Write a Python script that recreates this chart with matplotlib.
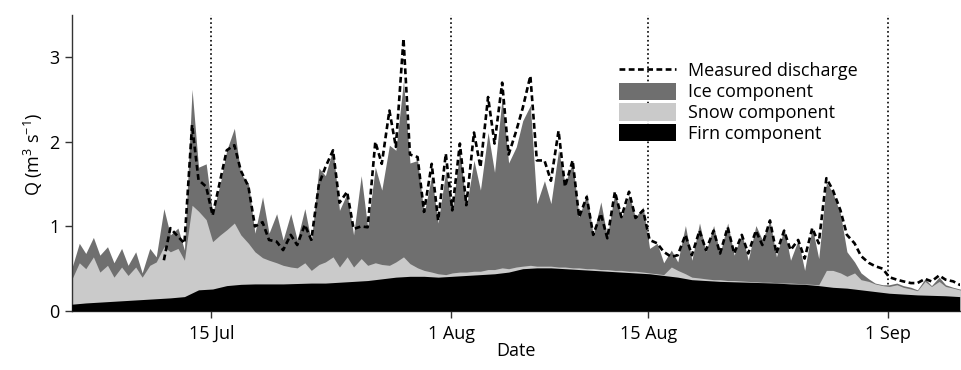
import numpy as np
import matplotlib
matplotlib.use('Agg')
import matplotlib.pyplot as plt
import matplotlib.dates as mdates
from matplotlib.patches import Patch

plt.rcParams['font.family'] = ['Open Sans', 'DejaVu Sans']
plt.rcParams['mathtext.fontset'] = 'custom'
plt.rcParams['mathtext.rm'] = 'Open Sans'
plt.rcParams['mathtext.default'] = 'regular'

# values, two per day (early morning, afternoon), 5 Jul - 6 Sep
# cumulative top of the ice component (= firn + snow + ice), m3/s
ice_top = [0.50, 0.80, 0.68, 0.87, 0.66, 0.76, 0.57, 0.74, 0.54, 0.70,
           0.45, 0.74, 0.64, 1.21, 0.90, 0.98, 0.72, 2.62, 1.70, 1.74,
           1.15, 1.51, 1.90, 2.16, 1.62, 1.51, 0.92, 1.35, 0.92, 1.15,
           0.84, 1.15, 0.84, 1.21, 0.82, 1.69, 1.60, 1.92, 1.19, 1.39,
           0.90, 1.60, 0.99, 1.70, 1.43, 1.96, 1.90, 2.72, 1.75, 1.78,
           1.15, 1.60, 1.04, 1.66, 1.19, 1.90, 1.23, 1.78, 1.43, 2.11,
           1.64, 2.53, 1.75, 1.94, 2.25, 2.43, 1.27, 1.54, 1.27, 1.90,
           1.51, 1.76, 1.11, 1.39, 0.90, 1.29, 0.88, 1.41, 1.10, 1.37,
           1.11, 1.23, 0.74, 0.80, 0.57, 0.72, 0.58, 1.01, 0.60, 1.04,
           0.70, 1.01, 0.68, 1.04, 0.66, 0.92, 0.60, 1.01, 0.84, 1.07,
           0.64, 0.98, 0.60, 0.84, 0.48, 0.99, 0.62, 1.52, 1.40, 1.15,
           0.70, 0.58, 0.45, 0.38, 0.33, 0.31, 0.31, 0.33, 0.30, 0.28,
           0.25, 0.38, 0.30, 0.40, 0.31, 0.28, 0.26, 0.25]

# cumulative top of the snow component (= firn + snow)
snow_top = [0.37, 0.57, 0.50, 0.64, 0.46, 0.54, 0.40, 0.52, 0.42, 0.52,
            0.40, 0.54, 0.58, 0.76, 0.70, 0.74, 0.60, 1.25, 1.18, 1.08,
            0.82, 0.90, 0.96, 1.04, 0.90, 0.80, 0.70, 0.63, 0.60, 0.57,
            0.54, 0.52, 0.51, 0.57, 0.48, 0.55, 0.58, 0.64, 0.52, 0.64,
            0.52, 0.62, 0.54, 0.57, 0.55, 0.54, 0.58, 0.64, 0.56, 0.51,
            0.48, 0.46, 0.44, 0.43, 0.45, 0.46, 0.46, 0.47, 0.47, 0.49,
            0.49, 0.51, 0.50, 0.52, 0.53, 0.54, 0.53, 0.53, 0.53, 0.52,
            0.52, 0.51, 0.51, 0.50, 0.50, 0.49, 0.49, 0.48, 0.48, 0.47,
            0.47, 0.46, 0.45, 0.44, 0.43, 0.52, 0.48, 0.44, 0.40, 0.39,
            0.38, 0.37, 0.37, 0.36, 0.36, 0.355, 0.35, 0.345, 0.34, 0.34,
            0.335, 0.33, 0.33, 0.325, 0.32, 0.315, 0.31, 0.48, 0.48, 0.45,
            0.41, 0.45, 0.37, 0.35, 0.32, 0.30, 0.29, 0.31, 0.28, 0.26,
            0.24, 0.35, 0.29, 0.35, 0.29, 0.27, 0.25, 0.24]

# firn component, one value per day
firn = [0.08, 0.095, 0.105, 0.115, 0.125, 0.135, 0.145, 0.155, 0.17, 0.25,
        0.26, 0.30, 0.315, 0.32, 0.32, 0.32, 0.325, 0.33, 0.33, 0.34,
        0.35, 0.36, 0.38, 0.40, 0.41, 0.41, 0.40, 0.41, 0.42, 0.43,
        0.44, 0.46, 0.50, 0.51, 0.51, 0.50, 0.49, 0.48, 0.47, 0.46,
        0.45, 0.44, 0.42, 0.40, 0.37, 0.36, 0.35, 0.345, 0.34, 0.335,
        0.33, 0.32, 0.315, 0.30, 0.28, 0.27, 0.25, 0.23, 0.21, 0.20,
        0.19, 0.185, 0.18, 0.17]

# measured discharge (record starts on 11 Jul)
nan = np.nan
measured = [nan, nan, nan, nan, nan, nan, nan, nan, nan, nan,
            nan, nan, nan, 0.60, 0.98, 0.88, 0.80, 2.20, 1.55, 1.47,
            1.13, 1.55, 1.90, 1.96, 1.66, 1.47, 1.00, 1.05, 0.84, 0.82,
            0.72, 0.90, 0.78, 1.02, 0.84, 1.50, 1.70, 1.90, 1.28, 1.41,
            0.97, 1.00, 0.99, 2.00, 1.74, 2.37, 1.94, 3.22, 1.85, 1.82,
            1.17, 1.74, 1.07, 1.86, 1.19, 1.98, 1.25, 2.11, 1.70, 2.53,
            1.98, 2.70, 1.85, 2.13, 2.40, 2.78, 1.78, 1.78, 1.54, 2.13,
            1.47, 1.78, 1.11, 1.35, 0.90, 1.15, 0.86, 1.41, 1.11, 1.41,
            1.10, 1.19, 0.84, 0.80, 0.70, 0.64, 0.66, 0.90, 0.66, 0.95,
            0.72, 0.95, 0.68, 0.99, 0.68, 0.90, 0.68, 0.95, 0.78, 1.07,
            0.68, 0.95, 0.72, 0.84, 0.62, 0.98, 0.80, 1.57, 1.43, 1.19,
            0.90, 0.80, 0.65, 0.57, 0.53, 0.50, 0.40, 0.37, 0.35, 0.33,
            0.33, 0.38, 0.35, 0.42, 0.37, 0.35, 0.31, 0.30]

marker_dates = ['2007-07-15', '2007-08-01', '2007-08-15', '2007-09-01']

start = np.datetime64('2007-07-05T00:00')
ndays = len(firn)
hours = np.repeat(np.arange(ndays), 2) * 24 + np.tile([2, 15], ndays)
t_half = start + hours.astype('timedelta64[h]')
t_day = start + (np.arange(ndays) * 24 + 2).astype('timedelta64[h]')

fig = plt.figure(figsize=(9.62, 3.70), dpi=100)
ax = fig.add_axes([0.0745, 0.1595, 0.9234, 0.80])

ticks = [np.datetime64(d) for d in marker_dates]
for d in ticks:
    ax.axvline(d, color='black', ls=':', lw=1.2, zorder=0)

ice_col = '#6f6f6f'
snow_col = '#cacaca'
ax.fill_between(t_half, 0, ice_top, color=ice_col, lw=0, zorder=1)
ax.fill_between(t_half, 0, snow_top, color=snow_col, lw=0, zorder=2)
ax.fill_between(t_day, 0, firn, color='black', lw=0, zorder=3)
meas_line, = ax.plot(t_half, measured, color='black', lw=1.9,
                     dashes=(2.2, 1.3), zorder=4)

ax.set_xlim(start + np.timedelta64(2, 'h'), np.datetime64('2007-09-06T02:30'))
ax.set_ylim(0, 3.5)
ax.set_yticks([0, 1, 2, 3])
ax.set_xticks(ticks)
ax.xaxis.set_major_formatter(mdates.DateFormatter('%-d %b'))
ax.tick_params(labelsize=13, length=5, width=1, color='#333333', pad=4)
ax.tick_params(axis='x', pad=5)

for s in ['top', 'right']:
    ax.spines[s].set_visible(False)
for s in ['left', 'bottom']:
    ax.spines[s].set_color('#333333')
    ax.spines[s].set_linewidth(1)

ax.set_ylabel('Q (m$^3$ s$^{-1}$)', fontsize=13)
ax.set_xlabel('Date', fontsize=13)
ax.yaxis.set_label_coords(-0.03, 0.53)
ax.xaxis.set_label_coords(0.5, -0.105)

handles = [meas_line,
           Patch(color=ice_col, lw=0),
           Patch(color=snow_col, lw=0),
           Patch(color='black', lw=0)]
labels = ['Measured discharge', 'Ice component', 'Snow component', 'Firn component']
ax.legend(handles, labels, loc='upper left', bbox_to_anchor=(0.616, 0.842),
          frameon=False, fontsize=13, handlelength=3.15, handleheight=1.08,
          handletextpad=0.7, labelspacing=0.12, borderpad=0, borderaxespad=0)

fig.savefig('out.png', dpi=100)
